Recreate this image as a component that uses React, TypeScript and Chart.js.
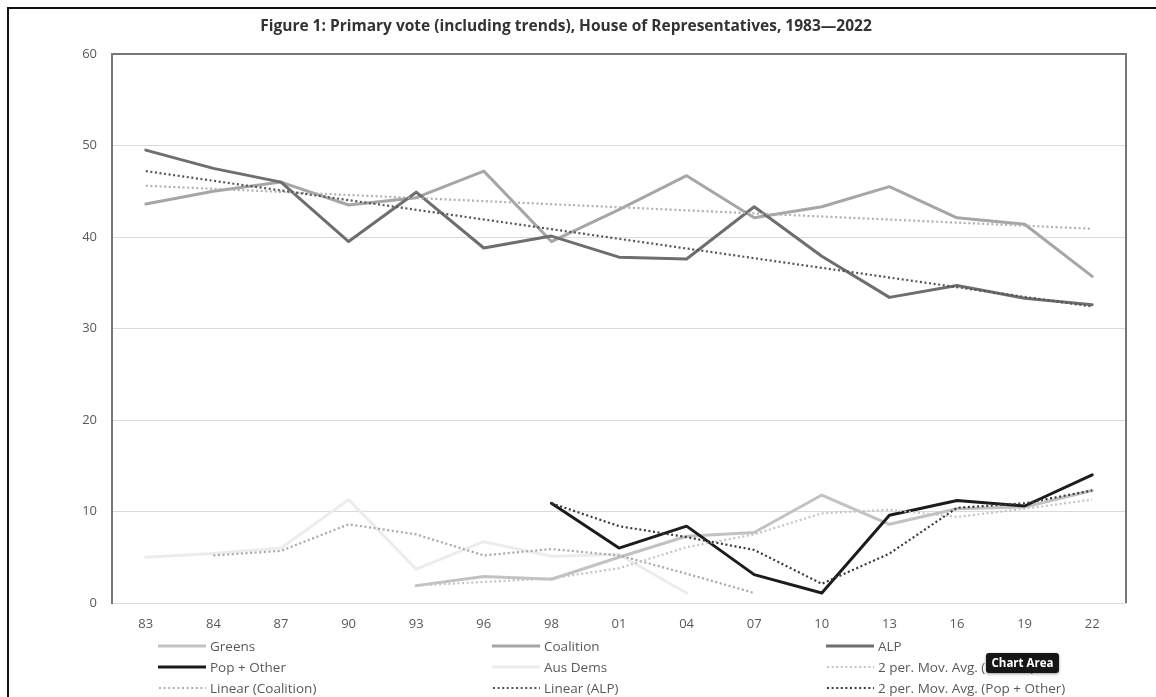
import React, { useEffect, useRef } from "react";
import { Chart, registerables } from "chart.js";

Chart.register(...registerables);

// ---- data ----
const categories = ["83", "84", "87", "90", "93", "96", "98", "01", "04", "07", "10", "13", "16", "19", "22"];
const yTicks = [0, 10, 20, 30, 40, 50, 60];

const greens = [null, null, null, null, 1.9, 2.9, 2.6, 5.0, 7.3, 7.7, 11.8, 8.6, 10.3, 10.5, 12.3];
const coalition = [43.6, 45.0, 46.0, 43.5, 44.3, 47.2, 39.5, 43.0, 46.7, 42.1, 43.3, 45.5, 42.1, 41.4, 35.7];
const alp = [49.5, 47.5, 46.0, 39.5, 44.9, 38.8, 40.1, 37.8, 37.6, 43.3, 37.9, 33.4, 34.7, 33.3, 32.6];
const popOther = [null, null, null, null, null, null, 10.9, 6.0, 8.4, 3.1, 1.1, 9.6, 11.2, 10.6, 14.0];
const ausDems = [5.0, 5.4, 6.0, 11.3, 3.7, 6.7, 5.1, 5.3, 1.1, null, null, null, null, null, null];

const maGreens = [null, null, null, null, 1.9, 2.3, 2.7, 3.8, 6.1, 7.5, 9.8, 10.2, 9.4, 10.3, 11.3];
const linearCoalition = [45.6, null, null, null, null, null, null, null, null, null, null, null, null, null, 40.9];
const linearAlp = [47.2, null, null, null, null, null, null, null, null, null, null, null, null, null, 32.4];
const maPopOther = [null, null, null, null, null, null, 10.9, 8.4, 7.2, 5.8, 2.1, 5.4, 10.4, 10.9, 12.3];
const maAusDems = [null, 5.2, 5.7, 8.6, 7.5, 5.2, 5.9, 5.2, 3.2, 1.1, null, null, null, null, null];

const titleText = "Figure 1: Primary vote (including trends), House of Representatives, 1983\u20142022";

// ---- styles ----
const W = 1156;
const H = 697;
const PLOT = { left: 112, top: 54, right: 1126, bottom: 603 };
const FONT = "'Open Sans', 'Noto Sans', sans-serif";
const TEXT = "#595959";

const C = {
  greens: "#C2C2C2",
  coalition: "#A6A6A6",
  alp: "#6E6E6E",
  pop: "#1C1C1C",
  ausDems: "#ECECEC",
  maGreens: "#C4C4C4",
  linCoal: "#B0B0B0",
  linAlp: "#555555",
  maPop: "#3A3A3A",
  maAus: "#A8A8A8",
};

type Item = { label: string; color: string; dotted: boolean; width: number };
const legendItems: Item[] = [
  { label: "Greens", color: C.greens, dotted: false, width: 3 },
  { label: "Coalition", color: C.coalition, dotted: false, width: 3 },
  { label: "ALP", color: C.alp, dotted: false, width: 3 },
  { label: "Pop + Other", color: C.pop, dotted: false, width: 3 },
  { label: "Aus Dems", color: C.ausDems, dotted: false, width: 3 },
  { label: "2 per. Mov. Avg. (Greens)", color: C.maGreens, dotted: true, width: 2 },
  { label: "Linear (Coalition)", color: C.linCoal, dotted: true, width: 2 },
  { label: "Linear (ALP)", color: C.linAlp, dotted: true, width: 2 },
  { label: "2 per. Mov. Avg. (Pop + Other)", color: C.maPop, dotted: true, width: 2 },
  { label: "2 per. Mov. Avg. (Aus Dems)", color: C.maAus, dotted: true, width: 2 },
];

const framePlugin = {
  id: "frame",
  beforeDatasetsDraw(chart: any) {
    const { ctx, chartArea } = chart;
    const { left, top, right, bottom } = chartArea;
    ctx.save();
    ctx.strokeStyle = "#777777";
    ctx.lineWidth = 2;
    ctx.beginPath();
    ctx.moveTo(left, top);
    ctx.lineTo(right, top);
    ctx.lineTo(right, bottom);
    ctx.stroke();
    ctx.restore();
  },
};

function solid(label: string, data: (number | null)[], color: string) {
  return {
    label,
    data,
    borderColor: color,
    backgroundColor: color,
    borderWidth: 3,
    pointRadius: 0,
    pointHoverRadius: 0,
    tension: 0,
    spanGaps: false,
    borderJoinStyle: "round" as const,
    borderCapStyle: "round" as const,
  };
}

function dotted(label: string, data: (number | null)[], color: string, span = false) {
  return {
    label,
    data,
    borderColor: color,
    backgroundColor: color,
    borderWidth: 2.2,
    borderDash: [2, 2.6],
    pointRadius: 0,
    pointHoverRadius: 0,
    tension: 0,
    spanGaps: span,
  };
}

export default function App() {
  const ref = useRef<HTMLCanvasElement | null>(null);

  useEffect(() => {
    if (!ref.current) return;
    const chart = new Chart(ref.current, {
      type: "line",
      data: {
        labels: categories,
        datasets: [
          dotted("2 per. Mov. Avg. (Pop + Other)", maPopOther, C.maPop),
          dotted("Linear (ALP)", linearAlp, C.linAlp, true),
          dotted("Linear (Coalition)", linearCoalition, C.linCoal, true),
          dotted("2 per. Mov. Avg. (Greens)", maGreens, C.maGreens),
          dotted("2 per. Mov. Avg. (Aus Dems)", maAusDems, C.maAus),
          solid("Pop + Other", popOther, C.pop),
          solid("ALP", alp, C.alp),
          solid("Coalition", coalition, C.coalition),
          solid("Greens", greens, C.greens),
          solid("Aus Dems", ausDems, C.ausDems),
        ] as any,
      },
      options: {
        responsive: false,
        animation: false,
        events: [],
        layout: { padding: { left: 0, top: PLOT.top, right: W - PLOT.right, bottom: 0 } },
        plugins: {
          legend: { display: false },
          title: { display: false },
          tooltip: { enabled: false },
        },
        scales: {
          x: {
            type: "category",
            offset: true,
            grid: { display: false, drawTicks: false },
            border: { color: "#D9D9D9", width: 1 },
            ticks: {
              color: TEXT,
              font: { family: FONT, size: 13 },
              padding: 13,
              maxRotation: 0,
              autoSkip: false,
            },
            afterFit: (s: any) => {
              s.height = H - PLOT.bottom;
            },
          },
          y: {
            min: 0,
            max: 60,
            afterBuildTicks: (s: any) => {
              s.ticks = yTicks.map((v) => ({ value: v }));
            },
            ticks: {
              color: TEXT,
              font: { family: FONT, size: 13 },
              padding: 15,
            },
            grid: { color: "#DADADA", lineWidth: 1, drawTicks: false },
            border: { color: "#777777", width: 2 },
            afterFit: (s: any) => {
              s.width = PLOT.left;
            },
          },
        },
      },
      plugins: [framePlugin],
    });
    return () => chart.destroy();
  }, []);

  const colX = [158, 492, 826];
  const rowY = [646, 667, 688, 709];

  return (
    <div
      style={{
        position: "fixed",
        left: 0,
        top: 0,
        width: W,
        height: H,
        overflow: "hidden",
        background: "#ffffff",
        fontFamily: FONT,
      }}
    >
      <canvas ref={ref} width={W} height={H} style={{ position: "absolute", left: 0, top: 0, width: W, height: H }} />
      {/* outer chart-area border (top and left visible) */}
      <div
        style={{
          position: "absolute",
          left: 7,
          top: 7,
          width: W,
          height: H,
          borderTop: "2px solid #111",
          borderLeft: "2px solid #111",
          pointerEvents: "none",
        }}
      />
      <div
        style={{
          position: "absolute",
          left: 8,
          width: 1116,
          top: 14,
          textAlign: "center",
          fontWeight: 700,
          fontSize: 15.5,
          color: "#333333",
          lineHeight: "22px",
          whiteSpace: "nowrap",
        }}
      >
        {titleText}
      </div>
      {legendItems.map((it, i) => {
        const col = i % 3;
        const row = Math.floor(i / 3);
        const x = colX[col];
        const y = rowY[row];
        return (
          <div
            key={it.label}
            style={{
              position: "absolute",
              left: x,
              top: y - 10,
              height: 20,
              display: "flex",
              alignItems: "center",
              whiteSpace: "nowrap",
            }}
          >
            <svg width={48} height={8} style={{ display: "block" }}>
              <line
                x1={it.dotted ? 1 : 0}
                y1={4}
                x2={48}
                y2={4}
                stroke={it.color}
                strokeWidth={it.width}
                strokeDasharray={it.dotted ? "2 2.6" : undefined}
              />
            </svg>
            <span style={{ marginLeft: 4, fontSize: 13.5, color: TEXT, lineHeight: "20px" }}>{it.label}</span>
          </div>
        );
      })}
      {/* hover tooltip visible in the reference screenshot */}
      <div
        style={{
          position: "absolute",
          left: 986,
          top: 653,
          width: 73,
          height: 20,
          background: "#161616",
          borderRadius: 3,
          color: "#ffffff",
          fontSize: 11.5,
          fontWeight: 700,
          lineHeight: "20px",
          textAlign: "center",
          boxShadow: "0 1px 3px rgba(0,0,0,0.4)",
          whiteSpace: "nowrap",
        }}
      >
        Chart Area
      </div>
    </div>
  );
}
